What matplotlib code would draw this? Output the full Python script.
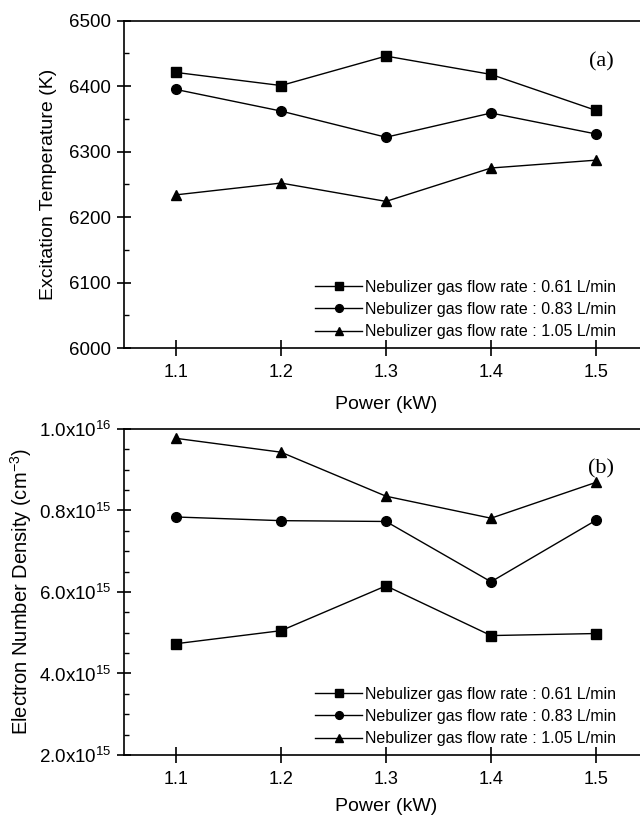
import matplotlib
matplotlib.use("Agg")
import matplotlib.pyplot as plt
from matplotlib.ticker import MultipleLocator

plt.rcParams['font.family'] = ['Liberation Sans', 'DejaVu Sans']
plt.rcParams['mathtext.fontset'] = 'custom'
plt.rcParams['mathtext.rm'] = 'Liberation Sans'
plt.rcParams['mathtext.it'] = 'Liberation Sans:italic'

power = [1.1, 1.2, 1.3, 1.4, 1.5]
labels = ["Nebulizer gas flow rate : 0.61 L/min",
          "Nebulizer gas flow rate : 0.83 L/min",
          "Nebulizer gas flow rate : 1.05 L/min"]
markers = ['s', 'o', '^']

# (a) excitation temperature, K
temp_061 = [6421, 6401, 6446, 6418, 6363]
temp_083 = [6395, 6362, 6322, 6359, 6327]
temp_105 = [6234, 6252, 6224, 6275, 6287]

# (b) electron number density, x10^15 cm^-3
ne_061 = [4.73, 5.05, 6.15, 4.93, 4.98]
ne_083 = [7.84, 7.75, 7.73, 6.25, 7.76]
ne_105 = [9.77, 9.43, 8.35, 7.81, 8.69]

ne_ticks = [2, 4, 6, 8, 10]
ne_ticklabels = [r'2.0x10$^{15}$', r'4.0x10$^{15}$', r'6.0x10$^{15}$',
                 r'0.8x10$^{15}$', r'1.0x10$^{16}$']

fig = plt.figure(figsize=(6.4, 8.16), dpi=100)
ax1 = fig.add_axes([0.193, 0.5735, 0.8203, 0.4011])
ax2 = fig.add_axes([0.193, 0.0748, 0.8203, 0.3995])


def style(ax, xpad):
    ax.spines['right'].set_visible(False)
    for s in ['left', 'bottom', 'top']:
        ax.spines[s].set_linewidth(1.2)
    ax.set_xlim(1.05, 1.55)
    ax.set_xticks(power)
    ax.set_xticklabels([str(p) for p in power])
    ax.tick_params(axis='x', direction='inout', length=11, width=1.2,
                   labelsize=13, pad=6)
    ax.tick_params(axis='y', which='major', direction='inout', length=10,
                   width=1.2, labelsize=13.5, pad=4)
    ax.tick_params(axis='y', which='minor', direction='in', length=3.6,
                   width=1)
    ax.set_xlabel('Power (kW)', fontsize=14, labelpad=xpad)


for ax, series, xpad in [(ax1, [temp_061, temp_083, temp_105], 11),
                         (ax2, [ne_061, ne_083, ne_105], 7)]:
    for vals, m, lab in zip(series, markers, labels):
        ax.plot(power, vals, color='black', lw=1, marker=m, ms=7,
                label=lab)
    style(ax, xpad)
    ax.legend(loc='lower right', bbox_to_anchor=(0.955, 0.0),
              frameon=False, fontsize=11.5, handlelength=2.9,
              handletextpad=0.2, labelspacing=0.45, borderaxespad=0.15,
              markerscale=0.8)

ax1.set_ylim(6000, 6500)
ax1.yaxis.set_major_locator(MultipleLocator(100))
ax1.yaxis.set_minor_locator(MultipleLocator(50))
ax1.set_ylabel('Excitation Temperature (K)', fontsize=14, labelpad=9)
ax1.text(0.91, 0.875, '(a)', transform=ax1.transAxes, fontsize=16,
         family='Liberation Serif', ha='center', va='center')

ax2.set_ylim(2, 10)
ax2.set_yticks(ne_ticks)
ax2.set_yticklabels(ne_ticklabels)
ax2.yaxis.set_minor_locator(MultipleLocator(0.5))
ax2.set_ylabel(r'Electron Number Density (cm$^{-3}$)', fontsize=14.5,
               labelpad=3)
ax2.text(0.91, 0.877, '(b)', transform=ax2.transAxes, fontsize=16,
         family='Liberation Serif', ha='center', va='center')

fig.savefig('out.png', dpi=100)
